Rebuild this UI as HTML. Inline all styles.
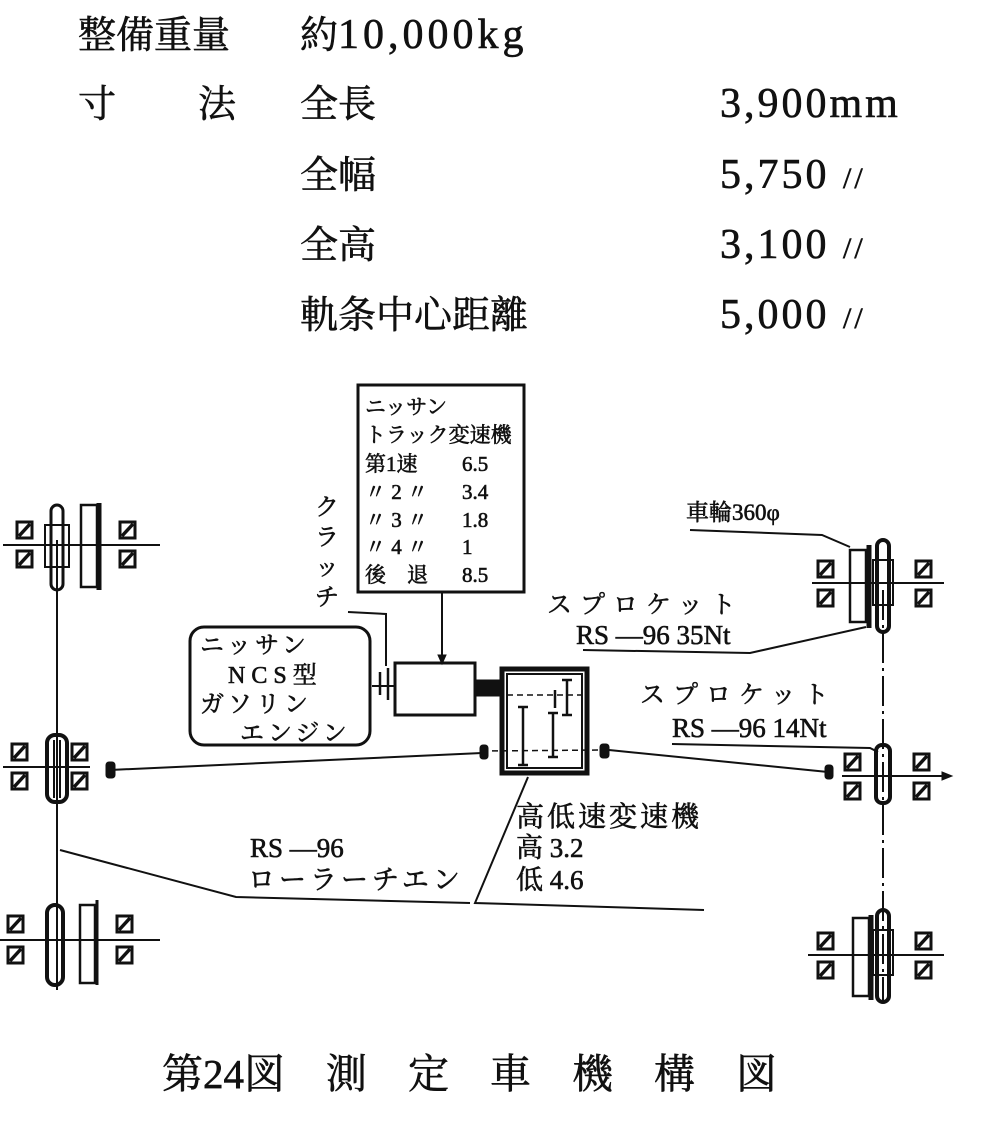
<!DOCTYPE html>
<html><head><meta charset="utf-8"><style>
html,body{margin:0;padding:0;background:#fff;}
svg{display:block;}
text{font-family:"Liberation Serif","Noto Serif CJK SC","Noto Sans CJK JP",serif;fill:#111;stroke:#111;stroke-width:0.6;}
</style></head><body>
<svg width="987" height="1126" viewBox="0 0 987 1126" xmlns="http://www.w3.org/2000/svg">
<defs>
<g id="h"><rect x="0" y="-1" width="15" height="16" fill="none" stroke="#111" stroke-width="3"/><line x1="2" y1="13" x2="13" y2="1" stroke="#111" stroke-width="3.5"/></g>
</defs>
<g font-size="38">
<text x="78" y="48">整備重量</text>
<text x="300" y="48">約<tspan font-size="42" letter-spacing="4">10,000kg</tspan></text>
<text x="78" y="117">寸</text><text x="198" y="117">法</text>
<text x="300" y="117">全長</text><text x="720" y="117" font-size="42" letter-spacing="3">3,900mm</text>
<text x="300" y="188">全幅</text><text x="720" y="188" font-size="42" letter-spacing="3">5,750 <tspan font-size="30">//</tspan></text>
<text x="300" y="258">全高</text><text x="720" y="258" font-size="42" letter-spacing="3">3,100 <tspan font-size="30">//</tspan></text>
<text x="300" y="328">軌条中心距離</text><text x="720" y="328" font-size="42" letter-spacing="3">5,000 <tspan font-size="30">//</tspan></text>
</g>
<g stroke="#111" fill="none">
<rect x="358" y="385" width="166" height="207" stroke-width="3"/>
<line x1="442" y1="592" x2="442" y2="660" stroke-width="2"/>
<polygon points="438,655 446,655 442,664" fill="#111"/>
<rect x="395" y="663" width="80" height="52" stroke-width="3"/>
<rect x="475" y="680" width="25" height="16" fill="#111"/>
<rect x="190" y="627" width="180" height="118" rx="14" stroke-width="3"/>
<polyline points="348,612 386,614 386,666" stroke-width="2"/>
<line x1="380" y1="672" x2="380" y2="695" stroke-width="2.5"/>
<line x1="388" y1="668" x2="388" y2="700" stroke-width="2.5"/>
<line x1="372" y1="686" x2="395" y2="686" stroke-width="2"/>
<rect x="502" y="669" width="85" height="104" stroke-width="5"/>
<rect x="507" y="674" width="75" height="94" stroke-width="2"/>
<line x1="507" y1="695" x2="582" y2="695" stroke-width="1.5" stroke-dasharray="6,4"/>
<line x1="482" y1="751" x2="604" y2="750" stroke-width="1.5" stroke-dasharray="6,4"/>
<g stroke-width="2.5">
<line x1="523" y1="707" x2="523" y2="765"/><line x1="518" y1="707" x2="528" y2="707"/><line x1="518" y1="765" x2="528" y2="765"/>
<line x1="553" y1="713" x2="553" y2="757"/><line x1="548" y1="713" x2="558" y2="713"/><line x1="548" y1="757" x2="558" y2="757"/>
<line x1="567" y1="680" x2="567" y2="715"/><line x1="562" y1="680" x2="572" y2="680"/><line x1="562" y1="715" x2="572" y2="715"/>
<line x1="555" y1="690" x2="555" y2="708"/>
</g>
<rect x="480" y="745" width="8" height="14" rx="3" fill="#111"/>
<rect x="600" y="744" width="9" height="14" rx="3" fill="#111"/>
<line x1="110" y1="770" x2="482" y2="753" stroke-width="2"/>
<line x1="609" y1="750" x2="828" y2="772" stroke-width="2"/>
<rect x="106" y="762" width="9" height="16" rx="3" fill="#111"/>
<rect x="825" y="765" width="8" height="14" rx="3" fill="#111"/>
<line x1="57" y1="540" x2="57" y2="990" stroke-width="2"/>
<line x1="3" y1="545" x2="160" y2="545" stroke-width="2"/>
<rect x="51" y="505" width="12" height="85" rx="6" stroke-width="3"/>
<rect x="45" y="525" width="24" height="42" stroke-width="2"/>
<rect x="81" y="505" width="16" height="82" stroke-width="2.5"/>
<line x1="99" y1="503" x2="99" y2="590" stroke-width="5"/>
<line x1="3" y1="767" x2="90" y2="767" stroke-width="2"/>
<rect x="47" y="735" width="20" height="67" rx="8" stroke-width="4"/>
<line x1="54" y1="740" x2="54" y2="798" stroke-width="2"/><line x1="60" y1="740" x2="60" y2="798" stroke-width="2"/>
<line x1="0" y1="940" x2="160" y2="940" stroke-width="2"/>
<rect x="47" y="905" width="16" height="80" rx="8" stroke-width="4"/>
<rect x="80" y="905" width="15" height="78" stroke-width="2.5"/>
<line x1="97" y1="900" x2="97" y2="985" stroke-width="3"/>
<polyline points="60,850 236,897 470,903" stroke-width="2"/>
<polyline points="528,777 475,903 704,910" stroke-width="2"/>
<line x1="883" y1="590" x2="883" y2="1000" stroke-width="2" stroke-dasharray="30,5,3,5"/>
<line x1="812" y1="583" x2="944" y2="583" stroke-width="2"/>
<rect x="850" y="550" width="16" height="72" stroke-width="2.5"/>
<line x1="869" y1="545" x2="869" y2="628" stroke-width="5"/>
<rect x="877" y="540" width="12" height="92" rx="6" stroke-width="4"/>
<rect x="873" y="560" width="20" height="45" stroke-width="2"/>
<line x1="842" y1="776" x2="945" y2="776" stroke-width="2"/>
<polygon points="942,772 952,776 942,780" fill="#111"/>
<rect x="876" y="745" width="14" height="58" rx="6" stroke-width="4"/>
<line x1="808" y1="955" x2="944" y2="955" stroke-width="2"/>
<rect x="853" y="918" width="16" height="78" stroke-width="2.5"/>
<line x1="871" y1="915" x2="871" y2="1000" stroke-width="5"/>
<rect x="877" y="910" width="12" height="92" rx="6" stroke-width="4"/>
<rect x="873" y="930" width="20" height="45" stroke-width="2"/>
<polyline points="690,530 822,535 850,547" stroke-width="2"/>
<polyline points="583,650 750,653 866,627" stroke-width="2"/>
<polyline points="672,744 870,748 878,752" stroke-width="2"/>
</g>
<g>
<use href="#h" x="17" y="523"/><use href="#h" x="17" y="552"/>
<use href="#h" x="120" y="523"/><use href="#h" x="120" y="552"/>
<use href="#h" x="12" y="745"/><use href="#h" x="12" y="774"/>
<use href="#h" x="72" y="745"/><use href="#h" x="72" y="774"/>
<use href="#h" x="8" y="917"/><use href="#h" x="8" y="948"/>
<use href="#h" x="117" y="917"/><use href="#h" x="117" y="948"/>
<use href="#h" x="818" y="562"/><use href="#h" x="818" y="591"/>
<use href="#h" x="916" y="562"/><use href="#h" x="916" y="591"/>
<use href="#h" x="845" y="755"/><use href="#h" x="845" y="784"/>
<use href="#h" x="914" y="755"/><use href="#h" x="914" y="784"/>
<use href="#h" x="818" y="934"/><use href="#h" x="818" y="963"/>
<use href="#h" x="916" y="934"/><use href="#h" x="916" y="963"/>
</g>
<g font-size="21">
<text x="365" y="414">ニッサン</text>
<text x="365" y="442">トラック変速機</text>
<text x="365" y="471">第1速</text><text x="462" y="471">6.5</text>
<text x="365" y="499">〃 2 〃</text><text x="462" y="499">3.4</text>
<text x="365" y="527">〃 3 〃</text><text x="462" y="527">1.8</text>
<text x="365" y="554">〃 4 〃</text><text x="462" y="554">1</text>
<text x="365" y="582">後　退</text><text x="462" y="582">8.5</text>
</g>
<g font-size="24">
<text x="315" y="515">ク</text><text x="315" y="545">ラ</text><text x="315" y="575">ッ</text><text x="315" y="605">チ</text>
<text x="200" y="653" letter-spacing="4">ニッサン</text>
<text x="228" y="683" letter-spacing="6">NCS型</text>
<text x="200" y="712" letter-spacing="4">ガソリン</text>
<text x="240" y="741" letter-spacing="4">エンジン</text>
<text x="686" y="520" font-size="23">車輪360φ</text>
<text x="547" y="613" letter-spacing="8" font-size="25">スプロケット</text>
<text x="576" y="644" font-size="27">RS —96  35Nt</text>
<text x="640" y="703" letter-spacing="8" font-size="25">スプロケット</text>
<text x="672" y="737" font-size="27">RS —96  14Nt</text>
<text x="516" y="826" font-size="28" letter-spacing="3">高低速変速機</text>
<text x="516" y="857" font-size="27">高 3.2</text>
<text x="516" y="889" font-size="27">低 4.6</text>
<text x="250" y="857" font-size="27">RS —96</text>
<text x="248" y="889" font-size="27" letter-spacing="4">ローラーチエン</text>
</g>
<text x="162" y="1088" font-size="41">第24図　測　定　車　機　構　図</text>
</svg>
</body></html>
